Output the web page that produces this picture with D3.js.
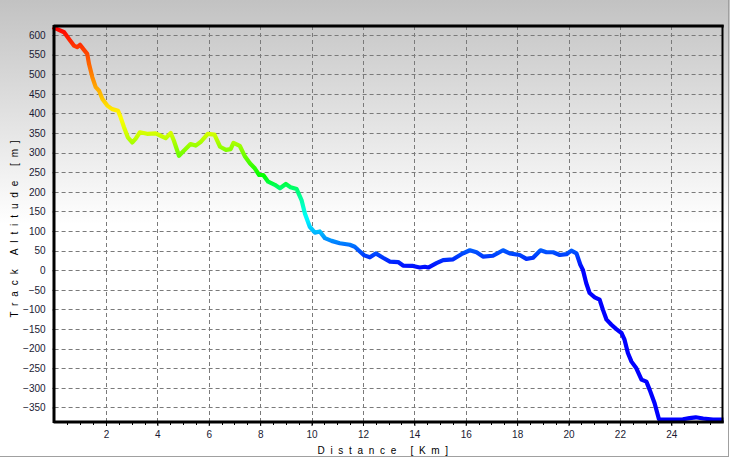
<!DOCTYPE html>
<html>
<head>
<meta charset="utf-8">
<script src="https://cdn.jsdelivr.net/npm/d3@7"></script>
<style>
html,body{margin:0;padding:0;background:#fff;}
svg{display:block;}
text{font-family:"Liberation Sans",Arial,sans-serif;}
</style>
</head>
<body>
<svg id="chart" width="730" height="458"></svg>
<script>
// ---- data ----
const distanceKm = [0,0.1,0.37,0.56,0.75,0.88,0.99,1.12,1.27,1.34,1.47,1.6,1.73,1.86,2.05,2.24,2.47,2.57,2.7,2.85,3.02,3.15,3.32,3.6,3.93,4.13,4.32,4.52,4.64,4.84,5.03,5.29,5.49,5.68,5.96,6.22,6.44,6.67,6.85,6.96,7.21,7.41,7.6,7.79,7.96,8.12,8.31,8.57,8.77,9.0,9.18,9.42,9.61,9.74,9.93,10.13,10.32,10.52,10.78,11.1,11.49,11.68,11.88,12.05,12.27,12.5,12.78,13.05,13.37,13.56,13.95,14.21,14.41,14.54,14.86,15.12,15.51,15.83,16.16,16.42,16.67,17.06,17.45,17.71,18.1,18.36,18.62,18.91,19.14,19.4,19.66,19.92,20.11,20.31,20.46,20.56,20.69,20.82,21.02,21.21,21.34,21.48,21.67,21.86,22.06,22.18,22.31,22.45,22.64,22.84,23.03,23.16,23.35,23.52,23.81,24.45,24.71,24.95,25.24,25.62,25.95];
const altitudeM = [618,615,607,590,573,569,575,564,552,526,492,467,458,437,420,411,407,390,365,339,326,335,352,348,349,343,337,350,331,292,305,322,318,327,348,346,315,307,309,325,317,290,273,260,243,243,226,218,209,220,212,207,179,145,111,96,99,82,75,69,65,60,48,38,33,43,32,22,21,12,11,7,9,7,18,26,28,41,51,46,35,37,51,43,39,29,32,51,46,46,39,41,50,43,14,1,-33,-58,-69,-75,-101,-126,-139,-150,-160,-177,-211,-233,-250,-279,-284,-305,-339,-380,-381,-380,-377,-375,-378,-381,-381];
const xTickValues = [2,4,6,8,10,12,14,16,18,20,22,24];
const yTickValues = [-350,-300,-250,-200,-150,-100,-50,0,50,100,150,200,250,300,350,400,450,500,550,600];
const xTitle = "Distance [Km]";
const yTitle = "Track Altitude [m]";
// altitude -> hue colour stops
const colorAlt = [0,50,100,145,210,240,290,350,410,500,620];
const colorHue = [240,220,195,175,145,120,95,70,55,30,0];

// ---- layout ----
const W = 730, H = 458;
const plot = {left:54.6, right:722.7, top:26, bottom:422};
const svg = d3.select("#chart");
const x = d3.scaleLinear().domain([0,26]).range([plot.left, plot.right]);
const y = d3.scaleLinear().domain([-387,623]).range([plot.bottom, plot.top]);
const hue = d3.scaleLinear().domain(colorAlt).range(colorHue).clamp(true);

const defs = svg.append("defs");
const bg = defs.append("linearGradient").attr("id","bg")
  .attr("x1",0).attr("x2",0).attr("y1",0).attr("y2",1);
bg.append("stop").attr("offset","0%").attr("stop-color","#c2c2c2");
bg.append("stop").attr("offset","49%").attr("stop-color","#ffffff");
bg.append("stop").attr("offset","100%").attr("stop-color","#ffffff");

svg.append("rect").attr("width",W).attr("height",H).attr("fill","url(#bg)");
// window frame
svg.append("line").attr("x1",728.5).attr("x2",728.5).attr("y1",0).attr("y2",457).attr("stroke","#a0a0a0");
svg.append("line").attr("x1",0).attr("x2",729).attr("y1",456.5).attr("y2",456.5).attr("stroke","#a0a0a0");

// line colour gradient (by altitude = vertical position)
const lg = defs.append("linearGradient").attr("id","trk")
  .attr("gradientUnits","userSpaceOnUse")
  .attr("x1",0).attr("x2",0).attr("y1",y(620)).attr("y2",y(0));
d3.range(620,-1,-10).forEach(a=>{
  lg.append("stop").attr("offset",(620-a)/620)
    .attr("stop-color", d3.hsl(hue(a),1,0.5).formatHex());
});

// grid
const grid = svg.append("g").attr("stroke","#7a7a7a").attr("stroke-dasharray","4,3").attr("stroke-width",1);
grid.selectAll("line.h").data(yTickValues).join("line")
  .attr("x1",plot.left).attr("x2",plot.right)
  .attr("y1",d=>Math.round(y(d))+0.5).attr("y2",d=>Math.round(y(d))+0.5);
grid.selectAll("line.v").data(xTickValues).join("line")
  .attr("y1",plot.top).attr("y2",plot.bottom)
  .attr("x1",d=>Math.round(x(d))+0.5).attr("x2",d=>Math.round(x(d))+0.5);

// axes
const xAxis = d3.axisBottom(x).tickValues(xTickValues).tickSize(4).tickFormat(d3.format("d"));
const gx = svg.append("g").attr("transform",`translate(0,${plot.bottom})`).call(xAxis);
gx.select(".domain").remove();
gx.selectAll(".tick line").attr("stroke","#000");
gx.selectAll(".tick text").attr("font-size",10).attr("fill","#1a1a33").attr("dy","0.9em")
  .style("font-family","'Liberation Sans',Arial,sans-serif");
const xMinor = svg.append("g").attr("stroke","#000");
xMinor.selectAll("line").data(d3.range(0.5,26,0.5)).join("line")
  .attr("x1",d=>Math.round(x(d))+0.5).attr("x2",d=>Math.round(x(d))+0.5)
  .attr("y1",plot.bottom).attr("y2",plot.bottom+3);

const yAxis = d3.axisLeft(y).tickValues(yTickValues).tickSize(2).tickPadding(7);
const gy = svg.append("g").attr("transform",`translate(${plot.left},0)`).call(yAxis);
gy.select(".domain").remove();
gy.selectAll(".tick line").attr("stroke","#000");
gy.selectAll(".tick text").attr("font-size",10).attr("fill","#1a1a33")
  .style("font-family","'Liberation Sans',Arial,sans-serif");

// track line
const line = d3.line().x((d,i)=>x(distanceKm[i])).y((d,i)=>y(altitudeM[i]));
svg.append("path").datum(altitudeM).attr("d",line)
  .attr("fill","none").attr("stroke","url(#trk)").attr("stroke-width",4.2)
  .attr("stroke-linejoin","round").attr("stroke-linecap","square");

// plot frame
const frame = svg.append("g").attr("stroke","#000").attr("fill","none");
frame.append("line").attr("x1",plot.left-1).attr("x2",plot.right+1).attr("y1",26).attr("y2",26).attr("stroke-width",3);
frame.append("line").attr("x1",54).attr("x2",54).attr("y1",25).attr("y2",423).attr("stroke-width",3);
frame.append("line").attr("x1",plot.left-1).attr("x2",plot.right+1).attr("y1",422).attr("y2",422).attr("stroke-width",3);
frame.append("line").attr("x1",722.5).attr("x2",722.5).attr("y1",25).attr("y2",423).attr("stroke-width",2);

// titles
svg.append("text").attr("x",(plot.left+plot.right)/2-3).attr("y",454)
  .attr("text-anchor","middle").attr("font-size",10).attr("letter-spacing","5.7px")
  .attr("fill","#000").text(xTitle);
svg.append("text").attr("transform",`translate(18,${(plot.top+plot.bottom)/2+2}) rotate(-90)`)
  .attr("text-anchor","middle").attr("font-size",10).attr("letter-spacing","5.9px")
  .attr("fill","#000").text(yTitle);
</script>
</body>
</html>
